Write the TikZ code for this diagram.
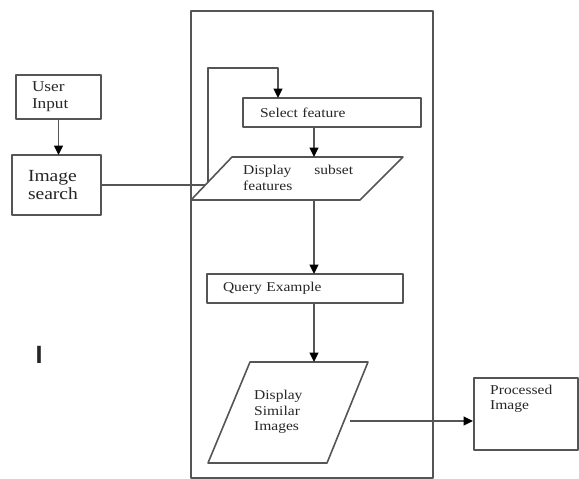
\documentclass[tikz,border=0pt]{standalone}
\usepackage{fontspec}
\setmainfont{Liberation Serif}[FakeStretch=1.15]
\newfontfamily\sansI{Liberation Sans}
\usetikzlibrary{arrows.meta}
\definecolor{ln}{HTML}{555555}
\definecolor{tx}{HTML}{262626}
\begin{document}
\begin{tikzpicture}[x=1pt,y=-1pt,
  line join=round,
  box/.style={draw=ln, line width=1.6pt, inner ysep=0pt, outer sep=0pt, align=left,
              text=tx, font=\fontsize{13.5}{15.5}\selectfont},
  txt/.style={text=tx, font=\fontsize{13.5}{15.5}\selectfont, align=left, inner sep=0pt},
  con/.style={draw=ln, line width=1.6pt},
  arr/.style={con, -{Triangle[length=9.5pt,width=9pt,color=black]}}]
\useasboundingbox (0,0) rectangle (579,479);
\fill[white] (0,0) rectangle (579,479);

% container
\node[draw=ln, line width=1.6pt, minimum width=242pt, minimum height=467pt, inner sep=0pt,
      anchor=north west] (frame) at (190,10) {};

% left boxes
\node[box, font=\fontsize{15}{17}\selectfont, text width=53pt, inner xsep=16pt,
      minimum height=44pt, anchor=north west] (ui) at (16,75) {User\\Input};
\node[box, font=\fontsize{17}{18}\selectfont, text width=57pt, inner xsep=16pt,
      minimum height=60pt, anchor=north west] (is) at (12,155) {Image\\search};

% inner boxes
\node[box, text width=144pt, inner xsep=17pt, minimum height=29pt, anchor=north west]
  (sel) at (243,98) {Select feature};
\node[box, text width=164pt, inner xsep=16pt, minimum height=29pt, anchor=north west]
  (q) at (207,274) {Query Example};

% parallelogram 1
\coordinate (p1a) at (232,157);
\coordinate (p1b) at (403,157);
\coordinate (p1c) at (360,200);
\coordinate (p1d) at (191,200);
\draw[con] (p1a) -- (p1b) -- (p1c) -- (p1d) -- cycle;
\node[txt, anchor=west] (p1t) at (243,178) {\makebox[110pt][s]{Display\hfill subset}\\features};

% parallelogram 2
\coordinate (p2a) at (250,362);
\coordinate (p2b) at (368,362);
\coordinate (p2c) at (327,463);
\coordinate (p2d) at (208,463);
\draw[con] (p2a) -- (p2b) -- (p2c) -- (p2d) -- cycle;
\node[txt, anchor=west] (p2t) at (254,412) {Display\\Similar\\Images};

% processed image
\node[draw=ln, line width=1.6pt, minimum width=104pt, minimum height=72pt, inner sep=0pt,
      anchor=north west] (pi) at (473,377) {};
\node[txt, anchor=west] (pit) at (490,399) {Processed\\Image};

% stray mark
\node[text=tx, inner sep=0pt, anchor=base, font=\fontsize{25}{25}\sansI\bfseries] (cur) at (39,363) {I};

% connectors
\coordinate (p1in) at (205,185);
\coordinate (lp0) at (208,182);
\coordinate (lp1) at (278,68);
\coordinate (m1) at (314,157);
\coordinate (m2) at (314,200);
\coordinate (m3) at (314,362);
\coordinate (p2out) at (350,421);

\draw[arr] (ui.south) -- (ui.south |- is.north);
\draw[con] (is.east) -- (p1in);
\draw[arr] (lp0) |- (lp1) -- (lp1 |- sel.north);
\draw[arr] (m1 |- sel.south) -- (m1);
\draw[arr] (m2) -- (m2 |- q.north);
\draw[arr] (m3 |- q.south) -- (m3);
\draw[arr] (p2out) -- (p2out -| pi.west);
\end{tikzpicture}
\end{document}
